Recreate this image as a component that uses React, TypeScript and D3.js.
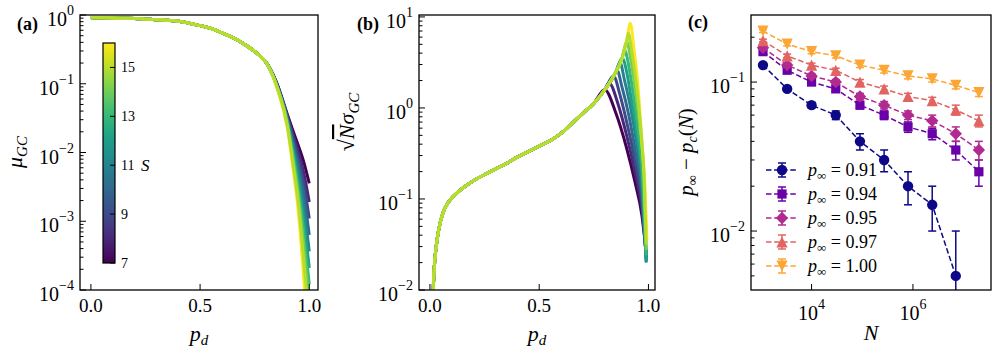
import React from 'react';
import * as d3 from 'd3';

const FONT = "'Liberation Serif', serif";

// ---------- Panel (a) & (b): curves for S = 7..16 ----------
const S_VALUES = [7, 8, 9, 10, 11, 12, 13, 14, 15, 16];
const S_DRAW_ORDER = [7, 8, 9, 10, 11, 12, 13, 14, 16, 15];
const CBAR_TICKS = [7, 9, 11, 13, 15];

// (a) mu_GC, shared part (log10 values)
const PD_A_COMMON = [0, 0.05, 0.1, 0.15, 0.2, 0.25, 0.3, 0.35, 0.4, 0.45, 0.5, 0.55, 0.6, 0.65, 0.7, 0.75, 0.775];
const MU_COMMON_LOG10 = [-0.04, -0.041, -0.043, -0.047, -0.052, -0.06, -0.068, -0.077, -0.09, -0.12, -0.155, -0.195, -0.26, -0.33, -0.42, -0.53, -0.6];
// (a) tails per S (log10 values)
const PD_A_TAIL = [0.8, 0.85, 0.9, 0.925, 0.95, 0.975, 1.0];
const MU_TAIL_LOG10 = [
  [-0.68, -0.98, -1.45, -1.68, -1.90, -2.14, -2.45],
  [-0.68, -0.99, -1.47, -1.73, -1.99, -2.30, -2.72],
  [-0.68, -1.00, -1.49, -1.79, -2.09, -2.46, -2.96],
  [-0.68, -1.00, -1.51, -1.85, -2.19, -2.62, -3.20],
  [-0.68, -1.01, -1.53, -1.91, -2.30, -2.80, -3.44],
  [-0.68, -1.01, -1.55, -1.96, -2.41, -2.98, -3.68],
  [-0.68, -1.02, -1.57, -2.02, -2.52, -3.16, -3.92],
  [-0.68, -1.02, -1.59, -2.08, -2.63, -3.36, -4.20],
  [-0.68, -1.03, -1.62, -2.15, -2.74, -3.58, -4.50],
  [-0.68, -1.04, -1.65, -2.22, -2.86, -3.85, -5.00],
];

// (b) sqrt(N) sigma_GC, shared part (log10 values)
const PD_B_COMMON = [0.01, 0.02, 0.03, 0.04, 0.06, 0.08, 0.10, 0.14, 0.18, 0.22, 0.26, 0.30, 0.35, 0.40, 0.45, 0.50, 0.55, 0.60, 0.65, 0.70, 0.75, 0.80, 0.85, 0.88, 0.90, 0.917];
const SIG_COMMON_LOG10 = [-2.3, -1.75, -1.5, -1.34, -1.15, -1.05, -0.99, -0.90, -0.83, -0.77, -0.72, -0.67, -0.61, -0.54, -0.48, -0.42, -0.36, -0.28, -0.17, -0.06, 0.05, 0.20, 0.39, 0.55, 0.73, 0.93];
// (b) tails per S: p values and log10 values (from the peak on)
const SIG_TAIL_P = [
  [0.80, 0.85, 0.90, 0.94, 0.97, 0.99],
  [0.82, 0.86, 0.90, 0.94, 0.97, 0.99],
  [0.84, 0.87, 0.90, 0.94, 0.97, 0.99],
  [0.855, 0.88, 0.91, 0.94, 0.97, 0.99],
  [0.87, 0.89, 0.92, 0.95, 0.97, 0.99],
  [0.88, 0.90, 0.92, 0.95, 0.97, 0.99],
  [0.89, 0.91, 0.93, 0.95, 0.97, 0.99],
  [0.90, 0.92, 0.94, 0.96, 0.98, 0.99],
  [0.908, 0.925, 0.945, 0.965, 0.98, 0.99],
  [0.917, 0.935, 0.95, 0.97, 0.985, 0.993],
];
const SIG_TAIL_LOG10 = [
  [0.20, -0.05, -0.44, -0.83, -1.18, -1.60],
  [0.275, 0.05, -0.30, -0.72, -1.10, -1.62],
  [0.35, 0.14, -0.15, -0.60, -1.02, -1.65],
  [0.42, 0.22, -0.08, -0.47, -0.93, -1.68],
  [0.50, 0.31, -0.02, -0.45, -0.82, -1.70],
  [0.55, 0.40, 0.12, -0.33, -0.72, -1.68],
  [0.64, 0.46, 0.16, -0.20, -0.62, -1.62],
  [0.73, 0.52, 0.20, -0.20, -0.80, -1.56],
  [0.82, 0.60, 0.25, -0.22, -0.75, -1.50],
  [0.93, 0.62, 0.30, -0.37, -0.90, -1.45],
];

// ---------- Panel (c) ----------
const N_VALUES = [1.1e3, 3.3e3, 1e4, 3e4, 9e4, 2.7e5, 8e5, 2.4e6, 7e6, 2e7];
const P_INF_LABELS = ['0.91', '0.94', '0.95', '0.97', '1.00'];
const GAP_091 = [0.13, 0.09, 0.07, 0.06, 0.04, 0.03, 0.02, 0.015, 0.005];
const ERR_091 = [0.003, 0.003, 0.003, 0.004, 0.005, 0.005, 0.005, 0.005, 0.005];
const GAP_094 = [0.16, 0.12, 0.10, 0.09, 0.07, 0.06, 0.05, 0.045, 0.035, 0.025];
const ERR_094 = [0.004, 0.004, 0.004, 0.004, 0.004, 0.004, 0.004, 0.004, 0.005, 0.005];
const GAP_095 = [0.17, 0.13, 0.11, 0.10, 0.08, 0.07, 0.06, 0.055, 0.045, 0.035];
const ERR_095 = [0.004, 0.004, 0.004, 0.004, 0.004, 0.004, 0.004, 0.005, 0.005, 0.005];
const GAP_097 = [0.19, 0.15, 0.13, 0.12, 0.10, 0.09, 0.08, 0.075, 0.065, 0.055];
const ERR_097 = [0.004, 0.004, 0.004, 0.004, 0.004, 0.004, 0.004, 0.004, 0.005, 0.005];
const GAP_100 = [0.22, 0.18, 0.16, 0.15, 0.13, 0.12, 0.11, 0.105, 0.095, 0.085];
const ERR_100 = [0.005, 0.005, 0.005, 0.005, 0.005, 0.005, 0.005, 0.005, 0.005, 0.005];
const SERIES_C = [
  { label: P_INF_LABELS[0], gap: GAP_091, err: ERR_091, marker: 'circle', t: 0.0 },
  { label: P_INF_LABELS[1], gap: GAP_094, err: ERR_094, marker: 'square', t: 0.2 },
  { label: P_INF_LABELS[2], gap: GAP_095, err: ERR_095, marker: 'diamond', t: 0.4 },
  { label: P_INF_LABELS[3], gap: GAP_097, err: ERR_097, marker: 'tri_up', t: 0.6 },
  { label: P_INF_LABELS[4], gap: GAP_100, err: ERR_100, marker: 'tri_down', t: 0.8 },
];

const sColor = (s: number) => d3.interpolateViridis((s - 7) / 9);

function markerPath(kind: string, x: number, y: number): string {
  switch (kind) {
    case 'circle': {
      const r = 5.2;
      return `M${x - r},${y}a${r},${r} 0 1,0 ${2 * r},0a${r},${r} 0 1,0 ${-2 * r},0Z`;
    }
    case 'square': {
      const h = 4.6;
      return `M${x - h},${y - h}H${x + h}V${y + h}H${x - h}Z`;
    }
    case 'diamond': {
      const h = 6.2;
      return `M${x},${y - h}L${x + h},${y}L${x},${y + h}L${x - h},${y}Z`;
    }
    case 'tri_up': {
      const h = 5.6;
      return `M${x},${y - h}L${x + h},${y + h}L${x - h},${y + h}Z`;
    }
    default: {
      const h = 5.6;
      return `M${x},${y + h}L${x + h},${y - h}L${x - h},${y - h}Z`;
    }
  }
}

function expLabel(e: number) {
  return e < 0 ? `\u2212${-e}` : `${e}`;
}

function yLogAxis(scale: any, xLeft: number, minE: number, maxE: number, key: string) {
  const els: any[] = [];
  const [d0, d1] = scale.domain();
  for (let e = minE; e <= maxE; e++) {
    for (let k = 1; k <= 9; k++) {
      const v = k * Math.pow(10, e);
      if (v < d0 * 0.999 || v > d1 * 1.001) continue;
      const y = scale(v);
      const len = k === 1 ? 6 : 3.5;
      els.push(<line key={`${key}t${e}_${k}`} x1={xLeft} x2={xLeft + len} y1={y} y2={y} stroke="#000" strokeWidth={1} />);
      if (k === 1) {
        els.push(
          <text key={`${key}l${e}`} x={xLeft - 6} y={y + 11} textAnchor="end" fontSize={20} style={{ fontFamily: FONT }}>
            10<tspan dy={-11} fontSize={14}>{expLabel(e)}</tspan>
          </text>
        );
      }
    }
  }
  return els;
}

function xLinAxis(scale: any, yBottom: number, ticks: number[], key: string) {
  return ticks.map((t) => (
    <g key={`${key}${t}`}>
      <line x1={scale(t)} x2={scale(t)} y1={yBottom} y2={yBottom - 6} stroke="#000" strokeWidth={1} />
      <text x={scale(t)} y={yBottom + 22} textAnchor="middle" fontSize={19} style={{ fontFamily: FONT }}>{t.toFixed(1)}</text>
    </g>
  ));
}

export default function App() {
  const A = { l: 80, r: 318, t: 15, b: 290 };
  const B = { l: 419, r: 655, t: 15, b: 290 };
  const C = { l: 751, r: 991, t: 15, b: 290 };

  const xA = d3.scaleLinear().domain([-0.05, 1.04]).range([A.l, A.r]);
  const yA = d3.scaleLog().domain([1e-4, 1]).range([A.b, A.t]);
  const xB = d3.scaleLinear().domain([-0.05, 1.03]).range([B.l, B.r]);
  const yB = d3.scaleLog().domain([1e-2, 10.5]).range([B.b, B.t]);
  const xC = d3.scaleLog().domain([Math.pow(10, 2.805), Math.pow(10, 7.54)]).range([C.l, C.r]);
  const yC = d3.scaleLog().domain([0.00402, 0.282]).range([C.b, C.t]);

  const lineA = d3.line<[number, number]>().x((d) => xA(d[0])).y((d) => yA(Math.pow(10, d[1]))).curve(d3.curveMonotoneX);
  const lineB = d3.line<[number, number]>().x((d) => xB(d[0])).y((d) => yB(Math.pow(10, d[1]))).curve(d3.curveMonotoneX);
  const lineC = d3.line<[number, number]>().x((d) => xC(d[0])).y((d) => yC(d[1]));

  const curvesA = S_DRAW_ORDER.map((s) => {
    const i = S_VALUES.indexOf(s);
    const pts: [number, number][] = PD_A_COMMON.map((p, j) => [p, MU_COMMON_LOG10[j]] as [number, number])
      .concat(PD_A_TAIL.map((p, j) => [p, MU_TAIL_LOG10[i][j]] as [number, number]));
    return <path key={`a${s}`} d={lineA(pts) || ''} fill="none" stroke={sColor(s)} strokeWidth={3} strokeLinejoin="round" />;
  });

  const curvesB = S_DRAW_ORDER.map((s) => {
    const i = S_VALUES.indexOf(s);
    const p0 = SIG_TAIL_P[i][0];
    const common: [number, number][] = [];
    PD_B_COMMON.forEach((p, j) => { if (p < p0 - 1e-6) common.push([p, SIG_COMMON_LOG10[j]]); });
    const pts = common.concat(SIG_TAIL_P[i].map((p, j) => [p, SIG_TAIL_LOG10[i][j]] as [number, number]));
    return <path key={`b${s}`} d={lineB(pts) || ''} fill="none" stroke={sColor(s)} strokeWidth={3} strokeLinejoin="round" />;
  });

  const cbar = { x: 103, w: 12, top: 43, bottom: 263 };
  const yCb = d3.scaleLinear().domain([7, 16]).range([cbar.bottom, cbar.top]);
  const gradStops = d3.range(0, 1.0001, 0.05).map((t) => (
    <stop key={`g${t.toFixed(2)}`} offset={`${(t * 100).toFixed(1)}%`} stopColor={d3.interpolateViridis(1 - t)} />
  ));

  const seriesC = SERIES_C.map((sr, si) => {
    const col = d3.interpolatePlasma(sr.t);
    const pts: [number, number][] = sr.gap.map((g, j) => [N_VALUES[j], g]);
    const errs = sr.gap.map((g, j) => {
      const x = xC(N_VALUES[j]);
      const lo = g - sr.err[j];
      const hi = g + sr.err[j];
      const yHi = yC(hi);
      const yLo = lo > 0 ? yC(lo) : C.b + 10;
      return (
        <g key={`e${si}_${j}`}>
          <line x1={x} x2={x} y1={yHi} y2={yLo} stroke={col} strokeWidth={1.5} />
          <line x1={x - 4} x2={x + 4} y1={yHi} y2={yHi} stroke={col} strokeWidth={1.5} />
          {lo > 0 && <line x1={x - 4} x2={x + 4} y1={yLo} y2={yLo} stroke={col} strokeWidth={1.5} />}
        </g>
      );
    });
    return (
      <g key={`c${si}`}>
        <path d={lineC(pts) || ''} fill="none" stroke={col} strokeWidth={1.5} strokeDasharray="5.5,2.6" />
        {errs}
        {pts.map((p, j) => (
          <path key={`m${si}_${j}`} d={markerPath(sr.marker, xC(p[0]), yC(p[1]))} fill={col} />
        ))}
      </g>
    );
  });

  const legendRows = [170, 194, 218, 242, 266];
  const legend = SERIES_C.map((sr, si) => {
    const col = d3.interpolatePlasma(sr.t);
    const y = legendRows[si];
    const xm = 782;
    return (
      <g key={`lg${si}`}>
        <line x1={766} x2={798} y1={y} y2={y} stroke={col} strokeWidth={1.5} strokeDasharray="5.5,2.6" />
        <line x1={xm} x2={xm} y1={y - 7} y2={y + 7} stroke={col} strokeWidth={1.5} />
        <line x1={xm - 4} x2={xm + 4} y1={y - 7} y2={y - 7} stroke={col} strokeWidth={1.5} />
        <line x1={xm - 4} x2={xm + 4} y1={y + 7} y2={y + 7} stroke={col} strokeWidth={1.5} />
        <path d={markerPath(sr.marker, xm, y)} fill={col} />
        <text x={808} y={y + 6} fontSize={18} style={{ fontFamily: FONT }}>
          <tspan fontStyle="italic">p</tspan>
          <tspan fontSize={13} dy={4}>∞</tspan>
          <tspan dy={-4}> = {sr.label}</tspan>
        </text>
      </g>
    );
  });

  const xTicksC = [4, 6].map((e) => {
    const x = xC(Math.pow(10, e));
    return (
      <g key={`xc${e}`}>
        <line x1={x} x2={x} y1={C.b} y2={C.b - 6} stroke="#000" strokeWidth={1} />
        <text x={x} y={C.b + 30} textAnchor="middle" fontSize={20} style={{ fontFamily: FONT }}>
          10<tspan dy={-11} fontSize={14}>{e}</tspan>
        </text>
      </g>
    );
  });

  const tf = { fontFamily: FONT };

  return (
    <svg width={996} height={356} style={{ position: 'absolute', left: 0, top: 0, background: '#fff', fontFamily: FONT }}>
      <defs>
        <clipPath id="clipA"><rect x={A.l} y={A.t} width={A.r - A.l} height={A.b - A.t} /></clipPath>
        <clipPath id="clipB"><rect x={B.l} y={B.t} width={B.r - B.l} height={B.b - B.t} /></clipPath>
        <clipPath id="clipC"><rect x={C.l} y={C.t} width={C.r - C.l} height={C.b - C.t} /></clipPath>
        <linearGradient id="viridisGrad" x1="0" y1="0" x2="0" y2="1">{gradStops}</linearGradient>
      </defs>
      <rect x={0} y={0} width={996} height={356} fill="#fff" />

      {/* Panel (a) */}
      <g clipPath="url(#clipA)">{curvesA}</g>
      <rect x={cbar.x} y={cbar.top} width={cbar.w} height={cbar.bottom - cbar.top} fill="url(#viridisGrad)" stroke="#000" strokeWidth={1.2} />
      {CBAR_TICKS.map((t) => (
        <g key={`cb${t}`}>
          <line x1={cbar.x + cbar.w - 5} x2={cbar.x + cbar.w} y1={yCb(t)} y2={yCb(t)} stroke="#000" strokeWidth={1} />
          <text x={cbar.x + cbar.w + 6} y={yCb(t) + 5} fontSize={14} style={tf}>{t}</text>
        </g>
      ))}
      <text x={141} y={171} fontSize={17} fontStyle="italic" style={tf}>S</text>
      <rect x={A.l} y={A.t} width={A.r - A.l} height={A.b - A.t} fill="none" stroke="#000" strokeWidth={1.3} />
      {yLogAxis(yA, A.l, -4, 0, 'a')}
      {xLinAxis(xA, A.b, [0, 0.5, 1.0], 'xa')}
      <text x={(A.l + A.r) / 2} y={341} textAnchor="middle" fontSize={22} style={tf}>
        <tspan fontStyle="italic">p</tspan><tspan fontStyle="italic" fontSize={15} dy={4}>d</tspan>
      </text>
      <text transform={`translate(22,152) rotate(-90)`} textAnchor="middle" fontSize={22} style={tf}>
        <tspan fontStyle="italic">μ</tspan><tspan fontStyle="italic" fontSize={15} dy={5}>GC</tspan>
      </text>
      <text x={17} y={30} fontSize={18} fontWeight="bold" style={tf}>(a)</text>

      {/* Panel (b) */}
      <g clipPath="url(#clipB)">{curvesB}</g>
      <rect x={B.l} y={B.t} width={B.r - B.l} height={B.b - B.t} fill="none" stroke="#000" strokeWidth={1.3} />
      {yLogAxis(yB, B.l, -2, 1, 'b')}
      {xLinAxis(xB, B.b, [0, 0.5, 1.0], 'xb')}
      <text x={(B.l + B.r) / 2} y={341} textAnchor="middle" fontSize={22} style={tf}>
        <tspan fontStyle="italic">p</tspan><tspan fontStyle="italic" fontSize={15} dy={4}>d</tspan>
      </text>
      <text transform={`translate(354,122) rotate(-90)`} textAnchor="middle" fontSize={22} style={tf}>
        <tspan>√</tspan><tspan fontStyle="italic" textDecoration="overline">N</tspan><tspan fontStyle="italic">σ</tspan><tspan fontStyle="italic" fontSize={15} dy={5}>GC</tspan>
      </text>
      <text x={357} y={30} fontSize={18} fontWeight="bold" style={tf}>(b)</text>

      {/* Panel (c) */}
      <g clipPath="url(#clipC)">{seriesC}</g>
      <rect x={C.l} y={C.t} width={C.r - C.l} height={C.b - C.t} fill="none" stroke="#000" strokeWidth={1.3} />
      {yLogAxis(yC, C.l, -3, -1, 'c')}
      {xTicksC}
      {legend}
      <text x={(C.l + C.r) / 2} y={340} textAnchor="middle" fontSize={22} fontStyle="italic" style={tf}>N</text>
      <text transform={`translate(693,152) rotate(-90)`} textAnchor="middle" fontSize={21} style={tf}>
        <tspan fontStyle="italic">p</tspan><tspan fontSize={14} dy={4}>∞</tspan><tspan dy={-4}> − </tspan>
        <tspan fontStyle="italic">p</tspan><tspan fontStyle="italic" fontSize={14} dy={4}>c</tspan><tspan dy={-4}>(</tspan>
        <tspan fontStyle="italic">N</tspan><tspan>)</tspan>
      </text>
      <text x={688} y={28} fontSize={18} fontWeight="bold" style={tf}>(c)</text>
    </svg>
  );
}
